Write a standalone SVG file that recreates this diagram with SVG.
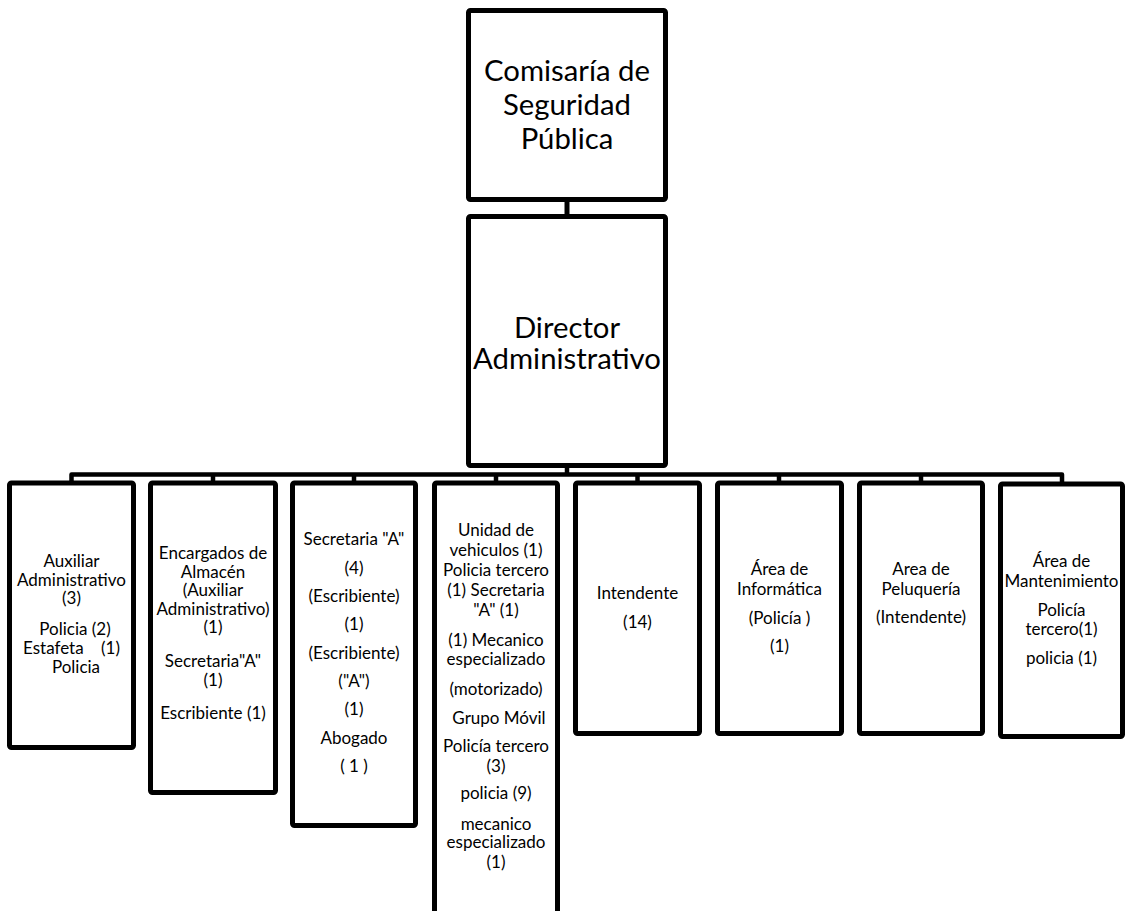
<svg xmlns="http://www.w3.org/2000/svg" width="1127" height="911" viewBox="0 0 1127 911">
  <style>
    .box { fill: #fff; stroke: #000; stroke-width: 5; }
    .conn { fill: none; stroke: #000; stroke-width: 4.5; stroke-linejoin: round; stroke-linecap: butt; }
    text { font-family: Lato, "Open Sans", "Liberation Sans", sans-serif; fill: #000; text-anchor: middle; }
    .big { font-size: 29.3px; }
    .small { font-size: 17px; }
  </style>
  <rect width="1127" height="911" fill="#fff"/>

  <!-- connectors: trunk, bus and drops -->
  <g id="connectors" class="conn">
    <path d="M567,200 V216" stroke-width="5"/>
    <path d="M567,466 V474.5"/>
    <path d="M71.5,483 V474.5 H1062 V483"/>
    <path d="M213,474.5 V483"/>
    <path d="M354,474.5 V483"/>
    <path d="M496,474.5 V483"/>
    <path d="M637.5,474.5 V483"/>
    <path d="M779,474.5 V483"/>
    <path d="M921,474.5 V483"/>
  </g>

  <g id="comisaria">
    <rect class="box" x="468.5" y="10.5" width="197" height="189" rx="2"/>
    <text class="big" x="567" y="81">Comisaría de</text>
    <text class="big" x="567" y="115">Seguridad</text>
    <text class="big" x="567" y="149">Pública</text>
  </g>

  <g id="director">
    <rect class="box" x="468.5" y="216.5" width="197" height="249" rx="2"/>
    <text class="big" x="567" y="338">Director</text>
    <text class="big" x="567" y="369">Administrativo</text>
  </g>

  <g id="auxiliar">
    <rect class="box" x="9.5" y="483" width="124" height="264.5" rx="2"/>
    <text class="small" x="71.5" y="567">Auxiliar</text>
    <text class="small" x="71.5" y="585.5">Administrativo</text>
    <text class="small" x="71.5" y="604">(3)</text>
    <text class="small" x="75" y="635">Policia (2)</text>
    <text class="small" x="71.5" y="654" xml:space="preserve">Estafeta    (1)</text>
    <text class="small" x="76" y="673">Policia</text>
  </g>

  <g id="almacen">
    <rect class="box" x="150.5" y="483" width="125" height="309.5" rx="2"/>
    <text class="small" x="213" y="559">Encargados de</text>
    <text class="small" x="213" y="577.5">Almacén</text>
    <text class="small" x="213" y="596">(Auxiliar</text>
    <text class="small" x="213" y="614.5">Administrativo)</text>
    <text class="small" x="213" y="633">(1)</text>
    <text class="small" x="213" y="667">Secretaria"A"</text>
    <text class="small" x="213" y="685.5">(1)</text>
    <text class="small" x="213" y="719">Escribiente (1)</text>
  </g>

  <g id="secretaria">
    <rect class="box" x="292.5" y="483" width="123" height="342.5" rx="2"/>
    <text class="small" x="354" y="545">Secretaria "A"</text>
    <text class="small" x="354" y="574">(4)</text>
    <text class="small" x="354" y="602">(Escribiente)</text>
    <text class="small" x="354" y="630">(1)</text>
    <text class="small" x="354" y="659">(Escribiente)</text>
    <text class="small" x="354" y="687">("A")</text>
    <text class="small" x="354" y="715">(1)</text>
    <text class="small" x="354" y="744">Abogado</text>
    <text class="small" x="354" y="772" xml:space="preserve">( 1 )</text>
  </g>

  <g id="vehiculos">
    <rect class="box" x="434.5" y="483" width="123" height="460" rx="2"/>
    <text class="small" x="496" y="536">Unidad de</text>
    <text class="small" x="496" y="556">vehiculos (1)</text>
    <text class="small" x="496" y="576">Policia tercero</text>
    <text class="small" x="496" y="596">(1) Secretaria</text>
    <text class="small" x="496" y="616">"A" (1)</text>
    <text class="small" x="496" y="646">(1) Mecanico</text>
    <text class="small" x="496" y="664.5">especializado</text>
    <text class="small" x="496" y="695">(motorizado)</text>
    <text class="small" x="499" y="724">Grupo Móvil</text>
    <text class="small" x="496" y="752">Policía tercero</text>
    <text class="small" x="496" y="772">(3)</text>
    <text class="small" x="496" y="799">policia (9)</text>
    <text class="small" x="496" y="829.5">mecanico</text>
    <text class="small" x="496" y="848">especializado</text>
    <text class="small" x="496" y="868">(1)</text>
  </g>

  <g id="intendente">
    <rect class="box" x="575.5" y="483" width="124" height="250.5" rx="2"/>
    <text class="small" x="637.5" y="599">Intendente</text>
    <text class="small" x="637.5" y="628">(14)</text>
  </g>

  <g id="informatica">
    <rect class="box" x="717.5" y="483" width="124" height="250.5" rx="2"/>
    <text class="small" x="779.5" y="575">Área de</text>
    <text class="small" x="779.5" y="595">Informática</text>
    <text class="small" x="779.5" y="624">(Policía )</text>
    <text class="small" x="779.5" y="652">(1)</text>
  </g>

  <g id="peluqueria">
    <rect class="box" x="859.5" y="483" width="123" height="250.5" rx="2"/>
    <text class="small" x="921" y="575">Area de</text>
    <text class="small" x="921" y="595">Peluquería</text>
    <text class="small" x="921" y="623">(Intendente)</text>
  </g>

  <g id="mantenimiento">
    <rect class="box" x="1000.5" y="484" width="122" height="252.5" rx="2"/>
    <text class="small" x="1061.5" y="567">Área de</text>
    <text class="small" x="1061.5" y="587">Mantenimiento</text>
    <text class="small" x="1061.5" y="616">Policía</text>
    <text class="small" x="1061.5" y="635">tercero(1)</text>
    <text class="small" x="1061.5" y="664">policia (1)</text>
  </g>
</svg>
